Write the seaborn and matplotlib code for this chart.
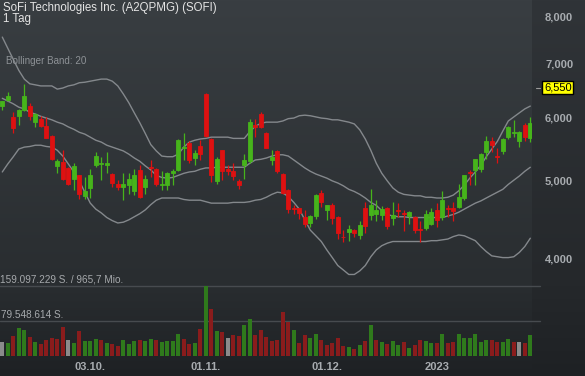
import numpy as np
import pandas as pd
import matplotlib
matplotlib.use("Agg")
import matplotlib.pyplot as plt
import seaborn as sns
from matplotlib.colors import to_rgb

# texts of the chart
title = "SoFi Technologies Inc. (A2QPMG) (SOFI)"
period = "1 Tag"
indicator = "Bollinger Band: 20"
turnover = "965,7 Mio."

# daily candles (EUR)
opens = [6.21, 6.32, 6.01, 6.04, 6.14, 6.22, 5.94, 5.98, 5.87, 5.70,
         5.23, 5.29, 5.20, 5.04, 5.09, 4.80, 4.91, 5.25, 5.26, 5.25,
         5.11, 4.96, 4.92, 4.95, 4.86, 5.17, 4.92, 5.22, 5.18, 4.95,
         4.95, 5.12, 5.17, 5.50, 5.59, 5.35, 5.54, 6.43, 5.65, 5.01,
         5.47, 5.19, 5.15, 5.01, 5.25, 5.30, 5.88, 6.07, 5.75, 5.32,
         5.46, 5.11, 4.88, 4.64, 4.63, 4.52, 4.44, 4.53, 4.84, 4.61,
         4.67, 4.52, 4.27, 4.33, 4.35, 4.29, 4.63, 4.54, 4.55, 4.54,
         4.64, 4.51, 4.61, 4.57, 4.53, 4.52, 4.36, 4.38, 4.43, 4.61,
         4.52, 4.63, 4.63, 4.65, 4.77, 5.14, 5.17, 5.19, 5.44, 5.62,
         5.38, 5.46, 5.69, 5.75, 5.62, 5.88, 5.67]
highs = [6.31, 6.46, 6.11, 6.15, 6.61, 6.26, 6.08, 6.03, 6.01, 5.71,
         5.33, 5.48, 5.21, 5.27, 5.10, 5.07, 5.18, 5.44, 5.37, 5.44,
         5.12, 5.02, 5.13, 5.12, 5.19, 5.25, 5.10, 5.32, 5.20, 5.15,
         5.14, 5.19, 5.65, 5.75, 5.61, 5.47, 5.63, 6.44, 5.66, 5.37,
         5.48, 5.25, 5.27, 5.04, 5.41, 5.98, 5.99, 6.10, 5.76, 5.48,
         5.47, 5.12, 4.89, 4.68, 4.64, 4.61, 4.54, 4.82, 4.88, 4.68,
         4.70, 4.53, 4.35, 4.41, 4.37, 4.46, 4.72, 4.89, 4.74, 4.66,
         4.65, 4.72, 4.70, 4.61, 4.59, 4.53, 4.46, 4.61, 4.63, 4.70,
         4.86, 4.68, 4.71, 4.97, 5.10, 5.17, 5.34, 5.43, 5.70, 5.68,
         5.50, 5.66, 5.87, 5.97, 5.78, 5.91, 6.01]
lows = [6.14, 6.31, 5.75, 5.88, 6.12, 5.97, 5.85, 5.85, 5.66, 5.32,
        5.13, 5.02, 4.95, 4.88, 4.76, 4.76, 4.77, 5.21, 5.03, 5.12,
        4.93, 4.88, 4.74, 4.83, 4.81, 4.77, 4.83, 5.07, 4.94, 4.88,
        4.88, 4.95, 5.15, 5.32, 5.27, 5.24, 5.32, 5.68, 5.00, 4.96,
        5.02, 5.09, 5.02, 4.90, 5.04, 5.27, 5.69, 5.83, 5.50, 5.25,
        5.12, 4.83, 4.57, 4.56, 4.49, 4.39, 4.39, 4.49, 4.65, 4.48,
        4.43, 4.24, 4.21, 4.22, 4.27, 4.24, 4.32, 4.48, 4.47, 4.48,
        4.37, 4.42, 4.52, 4.34, 4.43, 4.31, 4.21, 4.35, 4.41, 4.39,
        4.48, 4.52, 4.46, 4.63, 4.74, 4.95, 4.95, 5.14, 5.33, 5.45,
        5.27, 5.41, 5.65, 5.69, 5.52, 5.61, 5.60]
closes = [6.30, 6.39, 5.83, 6.14, 6.40, 6.04, 6.07, 5.87, 5.67, 5.33,
          5.30, 5.04, 4.96, 5.23, 4.82, 4.86, 5.10, 5.38, 5.27, 5.27,
          4.98, 4.93, 4.96, 5.04, 5.09, 4.78, 5.04, 5.20, 4.96, 4.97,
          5.12, 5.15, 5.63, 5.52, 5.32, 5.43, 5.41, 5.70, 5.09, 5.33,
          5.15, 5.15, 5.08, 4.95, 5.32, 5.94, 5.84, 5.84, 5.51, 5.36,
          5.15, 4.84, 4.62, 4.62, 4.57, 4.43, 4.53, 4.81, 4.72, 4.67,
          4.51, 4.31, 4.26, 4.37, 4.32, 4.42, 4.40, 4.67, 4.61, 4.62,
          4.40, 4.54, 4.60, 4.56, 4.58, 4.35, 4.35, 4.56, 4.58, 4.48,
          4.74, 4.62, 4.59, 4.79, 5.09, 5.12, 5.33, 5.41, 5.61, 5.55,
          5.37, 5.65, 5.85, 5.77, 5.77, 5.69, 5.92]

# Bollinger band (20) as drawn
bb_upper = [7.57, 7.33, 7.10, 6.88, 6.71, 6.62, 6.60, 6.58, 6.58, 6.58,
            6.52, 6.54, 6.58, 6.60, 6.64, 6.65, 6.67, 6.69, 6.71, 6.71,
            6.67, 6.58, 6.43, 6.27, 6.09, 5.92, 5.74, 5.56, 5.46, 5.38,
            5.37, 5.37, 5.41, 5.52, 5.60, 5.63, 5.65, 5.66, 5.68, 5.68,
            5.68, 5.68, 5.66, 5.66, 5.66, 5.77, 5.86, 5.91, 5.93, 5.93,
            5.93, 5.95, 5.99, 6.00, 6.04, 6.05, 6.04, 6.02, 6.00, 5.99,
            5.97, 5.97, 5.95, 5.93, 5.90, 5.80, 5.65, 5.47, 5.27, 5.12,
            5.01, 4.91, 4.85, 4.82, 4.81, 4.80, 4.80, 4.78, 4.78, 4.77,
            4.77, 4.78, 4.81, 4.87, 4.95, 5.05, 5.14, 5.24, 5.37, 5.49,
            5.61, 5.78, 5.95, 6.02, 6.09, 6.16, 6.21]
bb_middle = [6.35, 6.30, 6.25, 6.19, 6.16, 6.10, 6.07, 6.03, 6.00, 5.97,
             5.93, 5.90, 5.85, 5.81, 5.76, 5.73, 5.68, 5.63, 5.60, 5.55,
             5.52, 5.49, 5.46, 5.41, 5.35, 5.30, 5.23, 5.17, 5.09, 5.06,
             5.05, 5.06, 5.09, 5.12, 5.14, 5.15, 5.18, 5.20, 5.20, 5.21,
             5.21, 5.21, 5.21, 5.21, 5.21, 5.27, 5.32, 5.33, 5.35, 5.38,
             5.40, 5.40, 5.38, 5.32, 5.26, 5.20, 5.15, 5.11, 5.08, 5.05,
             5.01, 4.98, 4.94, 4.89, 4.86, 4.82, 4.77, 4.71, 4.67, 4.60,
             4.55, 4.53, 4.52, 4.52, 4.51, 4.51, 4.51, 4.51, 4.51, 4.51,
             4.51, 4.53, 4.55, 4.58, 4.62, 4.66, 4.70, 4.73, 4.77, 4.81,
             4.85, 4.89, 4.96, 5.02, 5.08, 5.15, 5.21]
bb_lower = [5.14, 5.26, 5.37, 5.49, 5.52, 5.53, 5.55, 5.55, 5.53, 5.52,
            5.47, 5.38, 5.26, 5.14, 5.01, 4.85, 4.70, 4.62, 4.57, 4.51,
            4.47, 4.44, 4.45, 4.48, 4.52, 4.56, 4.61, 4.68, 4.74, 4.77,
            4.77, 4.77, 4.77, 4.75, 4.74, 4.74, 4.74, 4.72, 4.70, 4.70,
            4.70, 4.70, 4.71, 4.71, 4.71, 4.72, 4.74, 4.75, 4.78, 4.82,
            4.85, 4.84, 4.79, 4.71, 4.62, 4.48, 4.35, 4.28, 4.21, 4.11,
            4.02, 3.93, 3.88, 3.83, 3.83, 3.87, 3.93, 4.03, 4.11, 4.16,
            4.19, 4.21, 4.21, 4.21, 4.21, 4.21, 4.21, 4.21, 4.22, 4.22,
            4.23, 4.24, 4.27, 4.29, 4.28, 4.25, 4.22, 4.15, 4.09, 4.04,
            4.03, 4.02, 4.02, 4.03, 4.08, 4.15, 4.25]

# volume in million shares, direction vs previous close (+ up, - down, 0 unchanged)
volumes = [31.4, 28.4, 44.8, 62.7, 58.3, 44.1, 31.4, 26.9, 35.9, 41.1,
           39.6, 65.7, 35.9, 29.9, 57.5, 33.6, 33.6, 38.1, 35.9, 28.4,
           26.9, 22.4, 35.9, 26.9, 33.6, 35.9, 33.6, 38.1, 35.9, 31.4,
           33.6, 33.6, 49.3, 38.1, 26.9, 29.1, 61.2, 159.097, 106.8, 56.0,
           53.8, 40.3, 48.5, 46.3, 69.5, 84.4, 48.5, 59.8, 42.6, 33.6,
           36.6, 99.3, 76.9, 58.3, 28.4, 47.1, 40.3, 49.3, 35.1, 23.9,
           29.1, 41.1, 22.4, 19.4, 16.4, 23.9, 33.6, 69.5, 37.3, 31.4,
           27.6, 33.6, 23.9, 30.6, 18.7, 23.9, 35.9, 33.6, 28.4, 29.1,
           49.3, 29.9, 31.4, 50.8, 41.1, 41.1, 49.3, 32.1, 37.3, 37.3,
           31.4, 30.6, 38.8, 32.1, 30.6, 29.9, 48.5]
vol_dir = ("0+-++-+---" "--0+-+++-+" "--+++-++-+" "+++--+-+-+" "-0--++----"
           "---+--++--" "---+-+-+-+" "-++-+--++-" "+--++++++-" "-++-0-+")
vol_max = 159097229

price_ticks = [4, 5, 6, 7, 8]
marker_price = 6.55
date_ticks = [16, 37, 59, 79]
date_labels = ["03.10.", "01.11.", "01.12.", "2023"]

W, H = 585, 376
GREEN, RED = "#46b41b", "#de1111"
TXT = "#a8acb0"


def gradient(stops, h):
    ys = [s[0] for s in stops]
    cols = np.array([to_rgb(s[1]) for s in stops])
    rows = np.arange(h)
    return np.stack([np.interp(rows, ys, cols[:, k]) for k in range(3)], axis=1)


def main():
    sns.set_style("dark")
    plt.rcParams['font.family'] = ['Liberation Sans', 'DejaVu Sans']

    df = pd.DataFrame({'i': np.arange(len(closes)), 'open': opens, 'high': highs,
                       'low': lows, 'close': closes, 'up': bb_upper,
                       'mid': bb_middle, 'lo': bb_lower, 'vol': volumes,
                       'dir': list(vol_dir)})

    fig = plt.figure(figsize=(W / 100, H / 100), dpi=100)

    # background
    bg = fig.add_axes([0, 0, 1, 1])
    bg.set_axis_off()
    img = np.empty((H, W, 3))
    img[:, :532] = gradient([(0, '#393e42'), (285, '#292d30'), (376, '#1e2124')], H)[:, None]
    img[:, 532:] = gradient([(0, '#303438'), (285, '#25282b'), (376, '#1e2124')], H)[:, None]
    bg.imshow(img, aspect='auto', extent=[0, 1, 0, 1])

    xlim = (-0.418, 96.309)

    # price panel
    ax = fig.add_axes([0, 91 / H, 532 / W, 285 / H])
    ax.set_yscale('log')
    for col in ['up', 'mid', 'lo']:
        sns.lineplot(data=df, x='i', y=col, ax=ax, color='#84888c', linewidth=1.0, zorder=1)
    colors = np.where(df['close'] >= df['open'], GREEN, RED)
    ax.vlines(df['i'], df['low'], df['high'], colors=colors, linewidth=0.9, zorder=2)
    lo = np.minimum(df['open'], df['close'])
    hi = np.maximum(df['open'], df['close'])
    ax.bar(df['i'], hi - lo, bottom=lo, width=0.78, color=colors, edgecolor=colors,
           linewidth=0.6, zorder=3)
    ax.set_xlim(*xlim)
    ax.set_ylim(3.716, 8.42)
    ax.set_axis_off()

    tr = ax.get_yaxis_transform()
    for p in price_ticks:
        ax.text(545 / 532, p, f"{p:.3f}".replace('.', ','), transform=tr, ha='left',
                va='center', fontsize=8, fontweight='bold', color=TXT)
    ax.plot([536 / 532, 540 / 532], [marker_price] * 2, transform=tr, color='#9a9a9a',
            linewidth=0.8, clip_on=False)
    ax.text(544 / 532, marker_price, f"{marker_price:.3f}".replace('.', ','), transform=tr,
            ha='left', va='center', fontsize=8, color='black',
            bbox=dict(boxstyle='square,pad=0.15', facecolor='#ffff00', edgecolor='black',
                      linewidth=1))

    # volume panel
    vax = fig.add_axes([0, 20 / H, 532 / W, 70.3 / H])
    sns.barplot(data=df, x='i', y='vol', hue='dir', dodge=False, legend=False,
                palette={'+': '#2f7a1c', '-': '#8a1c1c', '0': '#8b8b8b'},
                width=0.78, saturation=1, linewidth=0, ax=vax)
    vax.set_xlim(*xlim)
    vax.set_ylim(0, vol_max / 1e6)
    vax.set_axis_off()
    for v in [vol_max / 1e6, vol_max / 2e6]:
        vax.axhline(v, xmin=0, xmax=540 / 532, color='#474b4f', linewidth=1,
                    clip_on=False, zorder=0)
    for i, lab in zip(date_ticks, date_labels):
        vax.text(i, -0.156, lab, transform=vax.get_xaxis_transform(), ha='center',
                 va='center', fontsize=8, fontweight='bold', color=TXT)

    vol_txt = f"{vol_max:,}".replace(',', '.')
    half_txt = f"{vol_max // 2:,}".replace(',', '.')
    fig.text(0, 1 - 279.5 / H, f"{vol_txt} S. / {turnover}", fontsize=7.2,
             color='#a6a9ac', va='center')
    fig.text(1 / W, 1 - 314.5 / H, f"{half_txt} S.", fontsize=7.2,
             color='#a6a9ac', va='center')

    # header: title and period as one block with tight line spacing
    fig.text(3 / W, 1 - 2.5 / H, f"{title}\n{period}", fontsize=8.3, color='#e4e4e4',
             va='top', linespacing=0.85)
    fig.text(5.5 / W, 1 - 60.8 / H, indicator, fontsize=7.1, color='#8e9296', va='center')

    fig.savefig('out.png', dpi=100)


main()
